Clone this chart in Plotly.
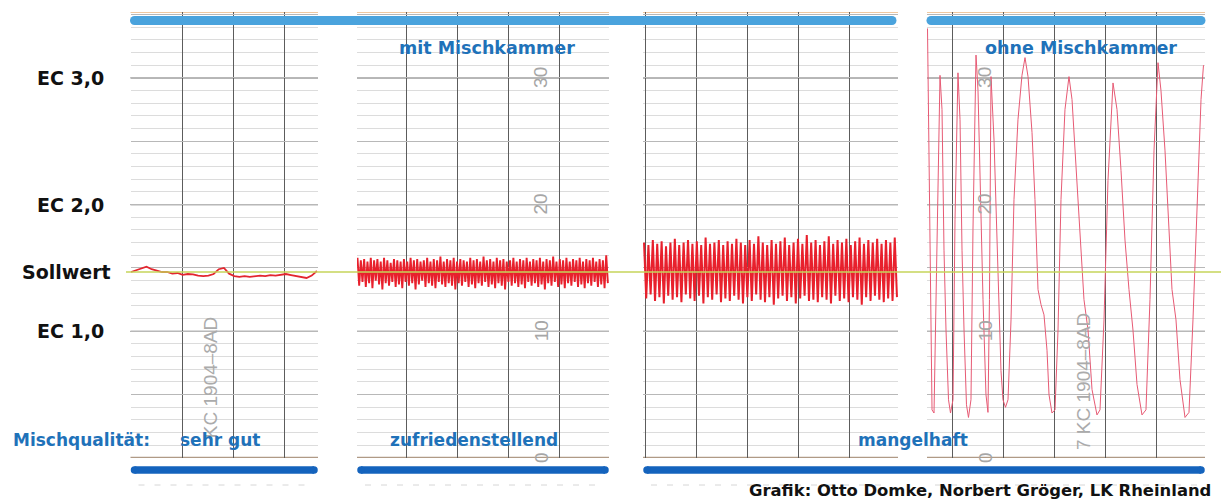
import numpy as np
import plotly.graph_objects as go

W, H = 1221, 499

# ---------------- data ----------------
ec_labels = ["EC 1,0", "EC 2,0", "EC 3,0"]
ec_levels = [1.0, 2.0, 3.0]
sollwert = 1.468
scale_numbers = ["0", "10", "20", "30"]
scale_levels = [0.0, 1.0, 2.0, 3.0]
quality_labels = ["sehr gut", "zufriedenstellend", "mangelhaft"]
group_labels = ["mit Mischkammer", "ohne Mischkammer"]
chart_ids = ["KC 1904\u20138AD", "7 KC 1904\u20138AD"]

# panel 1 (sehr gut) - EC values, one per minute
p1_ec = [1.468, 1.484, 1.500, 1.510, 1.490, 1.476, 1.468, 1.468, 1.455, 1.460,
         1.445, 1.452, 1.450, 1.440, 1.436, 1.440, 1.452, 1.490, 1.500, 1.455,
         1.436, 1.429, 1.436, 1.429, 1.432, 1.440, 1.436, 1.444, 1.440, 1.448,
         1.452, 1.444, 1.436, 1.425, 1.421, 1.440, 1.476]

# panel 2 (zufriedenstellend)
p2_ec = [1.58, 1.36, 1.56, 1.39, 1.57, 1.35, 1.55, 1.38, 1.58, 1.34, 1.56, 1.40, 1.57, 1.37, 1.55, 1.33, 1.58, 1.38, 1.56, 1.36,
         1.54, 1.39, 1.57, 1.35, 1.56, 1.37, 1.55, 1.34, 1.57, 1.39, 1.55, 1.36, 1.58, 1.38, 1.56, 1.33, 1.57, 1.37, 1.55, 1.40,
         1.56, 1.35, 1.58, 1.38, 1.55, 1.36, 1.57, 1.34, 1.56, 1.39, 1.59, 1.37, 1.55, 1.35, 1.57, 1.38, 1.56, 1.36, 1.58, 1.33,
         1.55, 1.38, 1.57, 1.36, 1.56, 1.39, 1.55, 1.35, 1.58, 1.37, 1.56, 1.34, 1.57, 1.38, 1.55, 1.36, 1.59, 1.39, 1.56, 1.35,
         1.57, 1.37, 1.55, 1.34, 1.58, 1.38, 1.56, 1.36, 1.57, 1.33, 1.55, 1.39, 1.56, 1.36, 1.58, 1.38, 1.55, 1.35, 1.57, 1.37,
         1.56, 1.34, 1.58, 1.39, 1.55, 1.36, 1.57, 1.38, 1.56, 1.35, 1.58, 1.37, 1.55, 1.33, 1.57, 1.38, 1.56, 1.36, 1.59, 1.39,
         1.55, 1.35, 1.57, 1.37, 1.56, 1.34, 1.58, 1.38, 1.55, 1.36, 1.57, 1.39, 1.56, 1.35, 1.58, 1.37, 1.55, 1.34, 1.57, 1.38,
         1.56, 1.36, 1.58, 1.39, 1.55, 1.35, 1.57, 1.37, 1.56, 1.34, 1.60, 1.38]

# panel 3 (mangelhaft, mit Mischkammer)
p3_ec = [1.70, 1.26, 1.68, 1.29, 1.72, 1.24, 1.69, 1.27, 1.71, 1.22, 1.67, 1.28, 1.70, 1.25, 1.73, 1.27, 1.68, 1.23, 1.70, 1.29,
         1.72, 1.26, 1.69, 1.24, 1.71, 1.28, 1.68, 1.22, 1.74, 1.27, 1.69, 1.25, 1.70, 1.29, 1.72, 1.23, 1.68, 1.26, 1.71, 1.24,
         1.69, 1.28, 1.73, 1.25, 1.70, 1.22, 1.68, 1.27, 1.72, 1.24, 1.69, 1.29, 1.75, 1.25, 1.70, 1.23, 1.68, 1.27, 1.72, 1.21,
         1.69, 1.26, 1.71, 1.28, 1.74, 1.24, 1.68, 1.27, 1.70, 1.22, 1.73, 1.26, 1.69, 1.28, 1.76, 1.24, 1.70, 1.25, 1.72, 1.23,
         1.68, 1.27, 1.71, 1.25, 1.75, 1.22, 1.69, 1.28, 1.72, 1.24, 1.70, 1.26, 1.73, 1.23, 1.68, 1.27, 1.71, 1.25, 1.74, 1.21,
         1.69, 1.27, 1.72, 1.24, 1.70, 1.28, 1.73, 1.25, 1.69, 1.23, 1.72, 1.26, 1.70, 1.24, 1.74, 1.27]

# panel 4 (ohne Mischkammer) - minutes and EC
p4_t = [0.1, 0.39, 0.68, 0.98, 1.37, 1.76, 2.25, 2.54, 2.93, 3.32, 3.71, 4.2, 4.59, 5.08, 5.47, 6.05, 6.45, 6.84, 7.23, 7.71,
        8.1, 8.59, 8.98, 9.57, 9.96, 10.35, 10.94, 11.52, 11.91, 12.2, 12.5, 13.09, 13.67, 14.06, 14.45, 14.84, 15.33, 15.82,
        16.41, 16.99, 17.77, 18.55, 19.14, 19.73, 20.51, 21.09, 21.68, 22.27, 22.85, 23.44, 23.83, 24.41, 25.0, 25.59, 26.17,
        26.95, 27.73, 28.32, 29.1, 29.88, 30.66, 31.45, 32.23, 33.2, 33.79, 34.57, 35.35, 36.33, 37.11, 37.89, 38.67, 39.45,
        40.23, 41.02, 41.99, 42.77, 43.55, 44.34, 45.12, 45.7, 46.48, 47.27, 47.85, 48.63, 49.41, 50.39, 51.17, 51.95, 52.73,
        53.52, 54.0]
p4_ec = [3.39, 2.43, 1.25, 0.38, 0.355, 1.25, 2.67, 3.02, 2.75, 1.64, 1.01, 0.46, 0.355, 0.46, 1.88, 3.04, 2.67, 1.64, 1.01,
         0.42, 0.32, 0.46, 1.80, 3.18, 2.90, 2.19, 1.25, 0.50, 0.36, 1.25, 3.01, 2.51, 1.72, 1.25, 0.69, 0.46, 0.40, 0.46,
         1.09, 2.04, 2.67, 3.02, 3.16, 3.01, 2.57, 2.04, 1.33, 1.21, 1.13, 0.85, 0.50, 0.355, 0.38, 1.01, 2.04, 2.75, 3.01,
         2.83, 2.27, 1.72, 1.25, 1.01, 0.54, 0.34, 0.38, 1.09, 2.19, 2.96, 2.75, 2.27, 1.72, 1.33, 1.01, 0.58, 0.34, 0.38,
         1.25, 2.43, 3.12, 2.90, 2.43, 1.80, 1.33, 1.09, 0.62, 0.32, 0.36, 1.09, 2.04, 2.83, 3.10]

# ---------------- layout geometry ----------------
PX_PER_MIN = 5.12
panels_px = [(130.5, 318), (357, 609), (643, 898), (927, 1205)]
tick0s = [0.1, 9.6, 0.4, 4.9]
Y_TOP_PX, Y_BOT_PX = 12, 458
YMAX = 3.52


def fx(px):
    return px / W


def fy(py):
    return (Y_BOT_PX - py) / (Y_BOT_PX - Y_TOP_PX)


series = [
    (np.linspace(0.1, 36.4, len(p1_ec)), p1_ec, "#e3262f", 1.8),
    (np.linspace(0.1, 49.0, len(p2_ec)), p2_ec, "#e8202c", 1.9),
    (np.linspace(0.2, 49.6, len(p3_ec)), p3_ec, "#e8202c", 2.0),
    (p4_t, p4_ec, "#e75a74", 1.0),
]

fig = go.Figure()
layout = dict(
    width=W, height=H,
    margin=dict(l=0, r=0, t=Y_TOP_PX, b=H - Y_BOT_PX),
    paper_bgcolor="white", plot_bgcolor="white",
    showlegend=False,
)
shapes = []
annotations = []

for i, ((l, r), (xs, ys, col, lw)) in enumerate(zip(panels_px, series)):
    n = "" if i == 0 else str(i + 1)
    fig.add_trace(go.Scatter(x=list(xs), y=ys, mode="lines",
                             line=dict(color=col, width=lw),
                             xaxis="x" + n, yaxis="y" + n, hoverinfo="skip"))
    layout["xaxis" + n] = dict(domain=[fx(l), fx(r)], range=[0, (r - l) / PX_PER_MIN],
                               showgrid=True, gridcolor="#5c5c5c", gridwidth=1,
                               dtick=10, tick0=tick0s[i], showticklabels=False,
                               zeroline=False, ticks="", anchor="y" + n)
    layout["yaxis" + n] = dict(domain=[0, 1], range=[0, YMAX], showgrid=True,
                               dtick=0.5, tick0=0, gridcolor="#b8b8b8", gridwidth=1,
                               minor=dict(dtick=0.1, showgrid=True, gridcolor="#dcdcdc", gridwidth=1),
                               showticklabels=False, zeroline=False, ticks="", anchor="x" + n)
    for lv in ec_levels:
        shapes.append(dict(type="line", xref="x" + n + " domain", yref="y" + n,
                           x0=0, x1=1, y0=lv, y1=lv, layer="below",
                           line=dict(color="#6e6e6e", width=1.2)))
    shapes.append(dict(type="line", xref="x" + n + " domain", yref="y" + n,
                       x0=0, x1=1, y0=0.004, y1=0.004, layer="below",
                       line=dict(color="#b09a86", width=1.3)))
    shapes.append(dict(type="line", xref="x" + n + " domain", yref="y" + n,
                       x0=0, x1=1, y0=YMAX - 0.004, y1=YMAX - 0.004, layer="below",
                       line=dict(color="#f0c8a0", width=1.2)))
    shapes.append(dict(type="line", xref="paper", yref="paper",
                       x0=fx(l + 8), x1=fx(r - 8), y0=fy(485), y1=fy(485),
                       line=dict(color="#d6d6d6", width=1, dash="6px,10px")))

shapes.append(dict(type="line", xref="paper", yref="y", x0=fx(126), x1=1,
                   y0=sollwert, y1=sollwert, layer="above",
                   line=dict(color="#c6d45a", width=1.5)))


def bar(x0p, x1p, yp, width, color):
    shapes.append(dict(type="line", xref="paper", yref="paper", x0=fx(x0p), x1=fx(x1p),
                       y0=fy(yp), y1=fy(yp), layer="above",
                       line=dict(color=color, width=width)))
    for xp in (x0p, x1p):
        shapes.append(dict(type="circle", xref="paper", yref="paper",
                           xsizemode="pixel", ysizemode="pixel",
                           xanchor=fx(xp), yanchor=fy(yp),
                           x0=-width / 2, x1=width / 2, y0=-width / 2, y1=width / 2,
                           fillcolor=color, line=dict(width=0), layer="above"))


TOP_BLUE = "#4aa3dd"
BOT_BLUE = "#1463bd"
bar(panels_px[0][0] + 4, panels_px[2][1] - 6, 20.5, 9, TOP_BLUE)
bar(panels_px[3][0] + 4, panels_px[3][1] - 4, 20.5, 9, TOP_BLUE)
bar(panels_px[0][0] + 4, panels_px[0][1] - 4, 470, 7.5, BOT_BLUE)
bar(panels_px[1][0] + 4, panels_px[1][1] - 4, 470, 7.5, BOT_BLUE)
bar(panels_px[2][0] + 4, panels_px[3][1] - 4, 470, 7.5, BOT_BLUE)

BOLD = dict(family="DejaVu Sans", weight="bold")

for lab, lv in zip(ec_labels, ec_levels):
    annotations.append(dict(text=lab, xref="paper", yref="y", x=fx(106), y=lv,
                            xanchor="right", yanchor="middle", showarrow=False,
                            font=dict(**BOLD, size=19, color="#111111")))
annotations.append(dict(text="Sollwert", xref="paper", yref="y", x=fx(113), y=sollwert,
                        xanchor="right", yanchor="middle", showarrow=False,
                        font=dict(**BOLD, size=19, color="#111111")))

for axn, xmin in (("x2", (541 - 357) / PX_PER_MIN), ("x4", (985 - 927) / PX_PER_MIN)):
    yn = "y" + axn[1:]
    for txt, lv in zip(scale_numbers, scale_levels):
        annotations.append(dict(text=txt, xref=axn, yref=yn, x=xmin, y=lv,
                                xanchor="center", yanchor="middle",
                                textangle=-90, showarrow=False,
                                font=dict(family="Liberation Sans", size=19, color="#a6a6a6")))

annotations.append(dict(text=chart_ids[0], xref="x", yref="y", x=(210 - 130.5) / PX_PER_MIN,
                        y=0.63, textangle=-90, showarrow=False, xanchor="center", yanchor="middle",
                        font=dict(family="Liberation Sans", size=19, color="#ababab")))
annotations.append(dict(text=chart_ids[1], xref="x4", yref="y4", x=(1084 - 927) / PX_PER_MIN,
                        y=0.60, textangle=-90, showarrow=False, xanchor="center", yanchor="middle",
                        font=dict(family="Liberation Sans", size=19, color="#ababab")))

TXT_BLUE = "#1f72b9"
for lab, cx in zip(group_labels, (487, 1081)):
    annotations.append(dict(text=lab, xref="paper", yref="paper", x=fx(cx), y=fy(48),
                            xanchor="center", yanchor="middle", showarrow=False,
                            font=dict(**BOLD, size=17.5, color=TXT_BLUE)))
annotations.append(dict(text="Mischqualit\u00e4t:", xref="paper", yref="paper", x=fx(11), y=fy(440),
                        xanchor="left", yanchor="middle", showarrow=False,
                        font=dict(**BOLD, size=17, color=TXT_BLUE)))
for lab, cx in zip(quality_labels, (220, 474, 913)):
    annotations.append(dict(text=lab, xref="paper", yref="paper", x=fx(cx), y=fy(440),
                            xanchor="center", yanchor="middle", showarrow=False,
                            font=dict(**BOLD, size=17, color=TXT_BLUE)))
annotations.append(dict(text="Grafik: Otto Domke, Norbert Gr\u00f6ger, LK Rheinland",
                        xref="paper", yref="paper", x=fx(1213), y=fy(490),
                        xanchor="right", yanchor="middle", showarrow=False,
                        font=dict(**BOLD, size=16.4, color="#111111")))

layout["shapes"] = shapes
layout["annotations"] = annotations
fig.update_layout(**layout)
fig.write_html("out.html", config={"displayModeBar": False, "staticPlot": True},
               post_script="document.body.style.margin='0';document.body.style.overflow='hidden';")
